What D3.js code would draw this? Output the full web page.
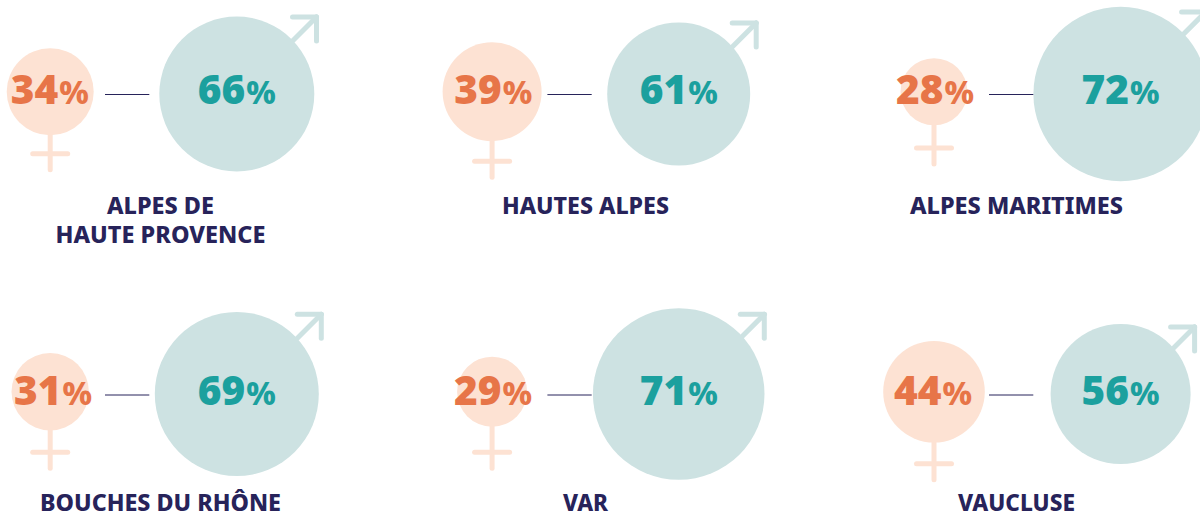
<!DOCTYPE html>
<html><head><meta charset="utf-8">
<script src="https://cdn.jsdelivr.net/npm/d3@7/dist/d3.min.js"></script>
<style>html,body{margin:0;background:#fff;overflow:hidden}svg{display:block;font-family:"Noto Sans",sans-serif}</style>
</head><body><svg id="c" width="1200" height="512"></svg>
<script>
const regions = [["ALPES DE","HAUTE PROVENCE"],["HAUTES ALPES"],["ALPES MARITIMES"],["BOUCHES DU RHÔNE"],["VAR"],["VAUCLUSE"]];
const femaleShare = [34,39,28,31,29,44];
const maleShare = [66,61,72,69,71,56];

const colors = {f:"#fde2d3", fText:"#e77548", m:"#cde2e2", mText:"#1ba09e", ink:"#27235a"};
// value -> radius
const rF = d3.scaleLinear().domain([28,29,31,34,39,44]).range([33.5,35,38.7,43.5,49.5,50.8]);
const rM = d3.scaleLinear().domain([56,61,66,69,71,72]).range([70,71.5,77.5,82,85.8,87.2]);
const col = d3.scalePoint().domain([0,1,2]).range([50.2,934]);
const row = d3.scalePoint().domain([0,1]).range([94,394]);
// layout read per panel
const tipDx = [79.7,77.5,85,84.5,85.6,74];
const tipDy = [77,71,82,79.7,79.7,67];
const crossY = [153.7,161.3,148,452.3,452.3,463.7];
const fTextDx = [-0.4,1.2,1,2.8,1,-1];
const lineX = [105,547.4,989,105,547.4,989];
const lineY = [94.5,94.5,94.5,395,395,395];
const labelCx = [160.5,585.5,1016.5,160.5,585.5,1016.5];
const labelY = [214,214,214,511,511,511];
const labelLen = [[107,210],[167],[213],[241],[45],[117]];

const svg = d3.select("#c");
regions.forEach((name,i)=>{
  const c=i%3, r=Math.floor(i/3);
  const fx=col(c), fy=row(r)-2.3, fr=rF(femaleShare[i]);
  const mx=fx+186.6, my=row(r), mr=rM(maleShare[i]);
  const g=svg.append("g");
  const sym=(a,b,cc,d,color)=>g.append("line").attr("x1",a).attr("y1",b).attr("x2",cc).attr("y2",d)
    .attr("stroke",color).attr("stroke-width",5).attr("stroke-linecap","round");
  // female symbol
  sym(fx,fy+fr-2,fx,crossY[i]+16,colors.f);
  sym(fx-17.5,crossY[i],fx+17.5,crossY[i],colors.f);
  g.append("circle").attr("cx",fx).attr("cy",fy).attr("r",fr).attr("fill",colors.f);
  // male symbol
  const tx=mx+tipDx[i], ty=my-tipDy[i];
  sym(tx-30,ty+30,tx,ty,colors.m);
  sym(tx-24,ty,tx,ty,colors.m);
  sym(tx,ty,tx,ty+24,colors.m);
  g.append("circle").attr("cx",mx).attr("cy",my).attr("r",mr).attr("fill",colors.m);
  // connector
  g.append("line").attr("x1",lineX[i]).attr("x2",lineX[i]+44.3).attr("y1",lineY[i]).attr("y2",lineY[i])
    .attr("stroke",colors.ink).attr("stroke-width",1);
  // percentages
  const pct=(x,y,v,color)=>{
    const t=g.append("text").attr("x",x).attr("y",y).attr("text-anchor","middle").attr("fill",color);
    t.append("tspan").attr("font-size",40.5).attr("font-weight",900).text(v);
    t.append("tspan").attr("font-size",32).attr("font-weight",800).attr("dx",1).text("%");
  };
  const base=row(r)+10+r;
  pct(fx+fTextDx[i],base,femaleShare[i],colors.fText);
  pct(mx,base,maleShare[i],colors.mText);
  // labels
  name.forEach((s,j)=>g.append("text").attr("x",labelCx[i]).attr("y",labelY[i]+j*29)
    .attr("text-anchor","middle").attr("font-size",23.5).attr("font-weight",800)
    .attr("textLength",labelLen[i][j]).attr("lengthAdjust","spacingAndGlyphs")
    .attr("fill",colors.ink).text(s));
});
</script></body></html>
